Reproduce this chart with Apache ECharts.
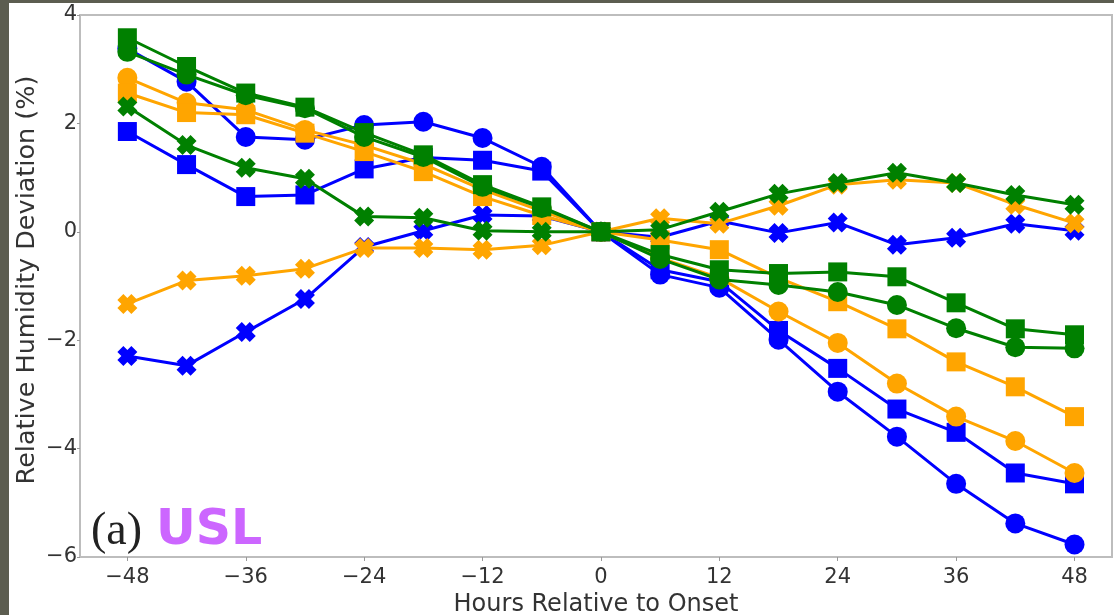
<!DOCTYPE html>
<html>
<head>
<meta charset="utf-8">
<script src="https://cdn.jsdelivr.net/npm/echarts@6/dist/echarts.min.js"></script>
<style>
html,body{margin:0;padding:0;width:1114px;height:615px;overflow:hidden;background:#5c5d50;}
#paper{position:absolute;left:9px;top:3px;width:1105px;height:612px;background:#ffffff;}
#chart{position:absolute;left:0;top:0;width:1114px;height:615px;}
</style>
</head>
<body>
<div id="paper"></div>
<div id="chart"></div>
<script>
// Hours relative to onset
const hours = [-48,-42,-36,-30,-24,-18,-12,-6,0,6,12,18,24,30,36,42,48];
const xTicks = [-48,-36,-24,-12,0,12,24,36,48];
const yTicks = [-6,-4,-2,0,2,4];
const yTitle = 'Relative Humidity Deviation (%)';
const xTitle = 'Hours Relative to Onset';

// Blue series
const blueCircle = [3.38,2.77,1.75,1.70,1.97,2.03,1.73,1.20,0,-0.79,-1.03,-1.99,-2.95,-3.78,-4.65,-5.38,-5.77];
const blueSquare = [1.85,1.24,0.65,0.68,1.16,1.37,1.32,1.12,0,-0.70,-0.92,-1.82,-2.52,-3.27,-3.70,-4.45,-4.65];
const blueX      = [-2.29,-2.47,-1.85,-1.24,-0.28,0.02,0.31,0.29,0,-0.10,0.20,-0.02,0.17,-0.24,-0.11,0.15,0.02];
// Orange series
const orangeCircle = [2.84,2.38,2.25,1.88,1.60,1.25,0.78,0.38,0,-0.48,-0.85,-1.47,-2.05,-2.80,-3.41,-3.86,-4.45];
const orangeSquare = [2.56,2.20,2.16,1.82,1.48,1.11,0.65,0.30,0,-0.15,-0.33,-0.85,-1.29,-1.79,-2.40,-2.86,-3.41];
const orangeX      = [-1.33,-0.90,-0.81,-0.68,-0.30,-0.30,-0.33,-0.25,0,0.25,0.15,0.48,0.87,0.96,0.90,0.50,0.16];
// Green series
const greenCircle = [3.32,2.90,2.52,2.28,1.75,1.38,0.83,0.44,0,-0.50,-0.88,-0.98,-1.11,-1.35,-1.78,-2.13,-2.15];
const greenSquare = [3.58,3.05,2.56,2.30,1.83,1.42,0.87,0.46,0,-0.42,-0.70,-0.77,-0.74,-0.83,-1.31,-1.79,-1.90];
const greenX      = [2.31,1.60,1.18,0.98,0.28,0.26,0.02,0.00,0,0.04,0.37,0.70,0.90,1.09,0.90,0.68,0.50];

const BLUE = '#0000ff', ORANGE = '#ffa500', GREEN = '#008000';
const XSYM = 'path://M3,0 L5,2 L7,0 L10,3 L8,5 L10,7 L7,10 L5,8 L3,10 L0,7 L2,5 L0,3 Z';

const seriesDefs = [
  [blueCircle, BLUE, 'circle'],
  [blueX, BLUE, XSYM],
  [blueSquare, BLUE, 'rect'],
  [orangeCircle, ORANGE, 'circle'],
  [orangeX, ORANGE, XSYM],
  [orangeSquare, ORANGE, 'rect'],
  [greenCircle, GREEN, 'circle'],
  [greenX, GREEN, XSYM],
  [greenSquare, GREEN, 'rect']
];

const minus = v => String(v).replace('-', '\u2212');

const chart = echarts.init(document.getElementById('chart'), null, {renderer:'canvas'});
chart.setOption({
  animation: false,
  backgroundColor: 'transparent',
  grid: {
    left: 80, top: 15, right: 2, height: 542,
    outerBoundsMode: 'none', containLabel: false,
    show: true, backgroundColor: '#ffffff', borderColor: '#bdbdbd', borderWidth: 2
  },
  xAxis: {
    type: 'value', min: -52.8, max: 51.8,
    name: xTitle, nameLocation: 'middle', nameGap: 31,
    nameTextStyle: {fontFamily: 'DejaVu Sans', fontSize: 24, color: '#333'},
    axisLine: {show: false, onZero: false},
    axisTick: {show: true, customValues: xTicks, length: 4, lineStyle: {color: '#999'}},
    axisLabel: {customValues: xTicks, formatter: minus, fontFamily: 'DejaVu Sans', fontSize: 21, color: '#333', margin: 10},
    splitLine: {show: false}
  },
  yAxis: {
    type: 'value', min: -6, max: 4, interval: 2,
    axisLine: {show: false, onZero: false},
    axisTick: {show: true, length: 3, lineStyle: {color: '#999'}},
    axisLabel: {formatter: minus, fontFamily: 'DejaVu Sans', fontSize: 21, color: '#333', margin: 3},
    splitLine: {show: false}
  },
  graphic: [
    {type: 'text', x: 27, y: 280, rotation: Math.PI / 2,
     style: {text: yTitle, font: '25.5px "DejaVu Sans"', fill: '#333', align: 'center', verticalAlign: 'middle'}},
    {type: 'text', left: 91, top: 509, style: {text: '(a)', font: '46px "Liberation Serif"', fill: '#222'}},
    {type: 'text', left: 156, top: 507, style: {text: 'USL', font: 'bold 49px "DejaVu Sans"', fill: '#cc66ff'}}
  ],
  series: seriesDefs.map((d, i) => ({
    type: 'line',
    z: 2 + i,
    data: hours.map((h, k) => [h, d[0][k]]),
    symbol: d[2],
    symbolSize: d[2] === 'rect' ? 19 : 20,
    showAllSymbol: true,
    itemStyle: {color: d[1], opacity: 1},
    lineStyle: {color: d[1], width: 3},
    emphasis: {disabled: true},
    silent: true
  }))
});
</script>
</body>
</html>
